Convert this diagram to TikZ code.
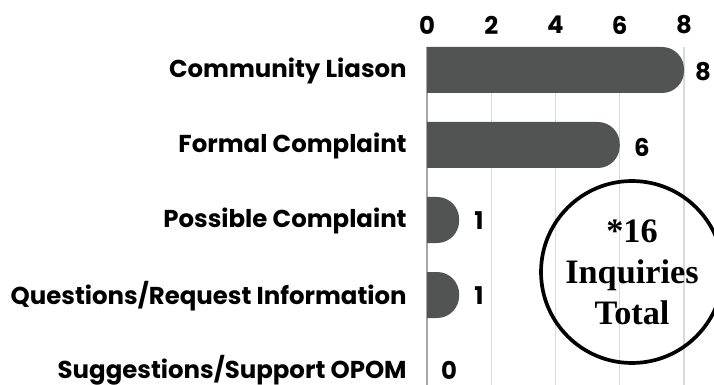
\documentclass[tikz,border=0pt]{standalone}
\usepackage{fontspec}
\setmainfont{Poppins}
\newfontfamily\totalfont{Liberation Serif}
\usepackage{tikz}

\definecolor{barcol}{HTML}{525453}
\definecolor{gridcol}{HTML}{D9D9D9}
\definecolor{axiscol}{HTML}{A6A6A6}

\begin{document}
\begin{tikzpicture}[x=0.02cm,y=-0.02cm,
  grid/.style={draw=gridcol,line width=0.6pt},
  bar/.style={fill=barcol},
  lbl/.style={font=\bfseries\fontsize{13.9}{16}\selectfont},
  cat/.style={lbl,anchor=east,inner sep=0pt}]
\useasboundingbox (0,0) rectangle (714,385);

% grid
\draw[grid] (491.25,47) -- (491.25,385);
\draw[grid] (555.5,47) -- (555.5,385);
\draw[grid] (619.75,47) -- (619.75,385);
\draw[grid] (684,47) -- (684,385);
\draw[draw=axiscol,line width=0.7pt] (427,47) -- (427,385);

% axis numbers
\node[lbl] (t0) at (427,25) {0};
\node[lbl] (t2) at (491.25,25) {2};
\node[lbl] (t4) at (555.5,25) {4};
\node[lbl] (t6) at (619.75,25) {6};
\node[lbl] (t8) at (684,25) {8};

% bars
\fill[bar] (427,93) -- (427,47) [rounded corners=12.5pt] -- (684,47) -- (684,93) [sharp corners] -- cycle;
\fill[bar] (427,168) -- (427,122) [rounded corners=12.5pt] -- (619.75,122) -- (619.75,168) [sharp corners] -- cycle;
\fill[bar] (427,243) -- (427,197) [rounded corners=12.5pt] -- (459.1,197) -- (459.1,243) [sharp corners] -- cycle;
\fill[bar] (427,318) -- (427,272) [rounded corners=12.5pt] -- (459.1,272) -- (459.1,318) [sharp corners] -- cycle;

% categories
\node[cat] (c1) at (407,71) {Community Liason};
\node[cat] (c2) at (407,146) {Formal Complaint};
\node[cat] (c3) at (407,221) {Possible Complaint};
\node[cat] (c4) at (407,296) {Questions/Request Information};
\node[cat] (c5) at (407,370) {Suggestions/Support OPOM};

% values
\node[lbl] (v1) at (703,72) {8};
\node[lbl] (v2) at (642,147) {6};
\node[lbl] (v3) at (479,221) {1};
\node[lbl] (v4) at (479,296) {1};
\node[lbl] (v5) at (449,370) {0};

% total
\draw[line width=2.1pt] (632,272) circle (1.82cm);
\node[align=center,font=\totalfont\bfseries\fontsize{19.5}{23.3}\selectfont] (total) at (632,272) {*16\\Inquiries\\Total};
\end{tikzpicture}
\end{document}
